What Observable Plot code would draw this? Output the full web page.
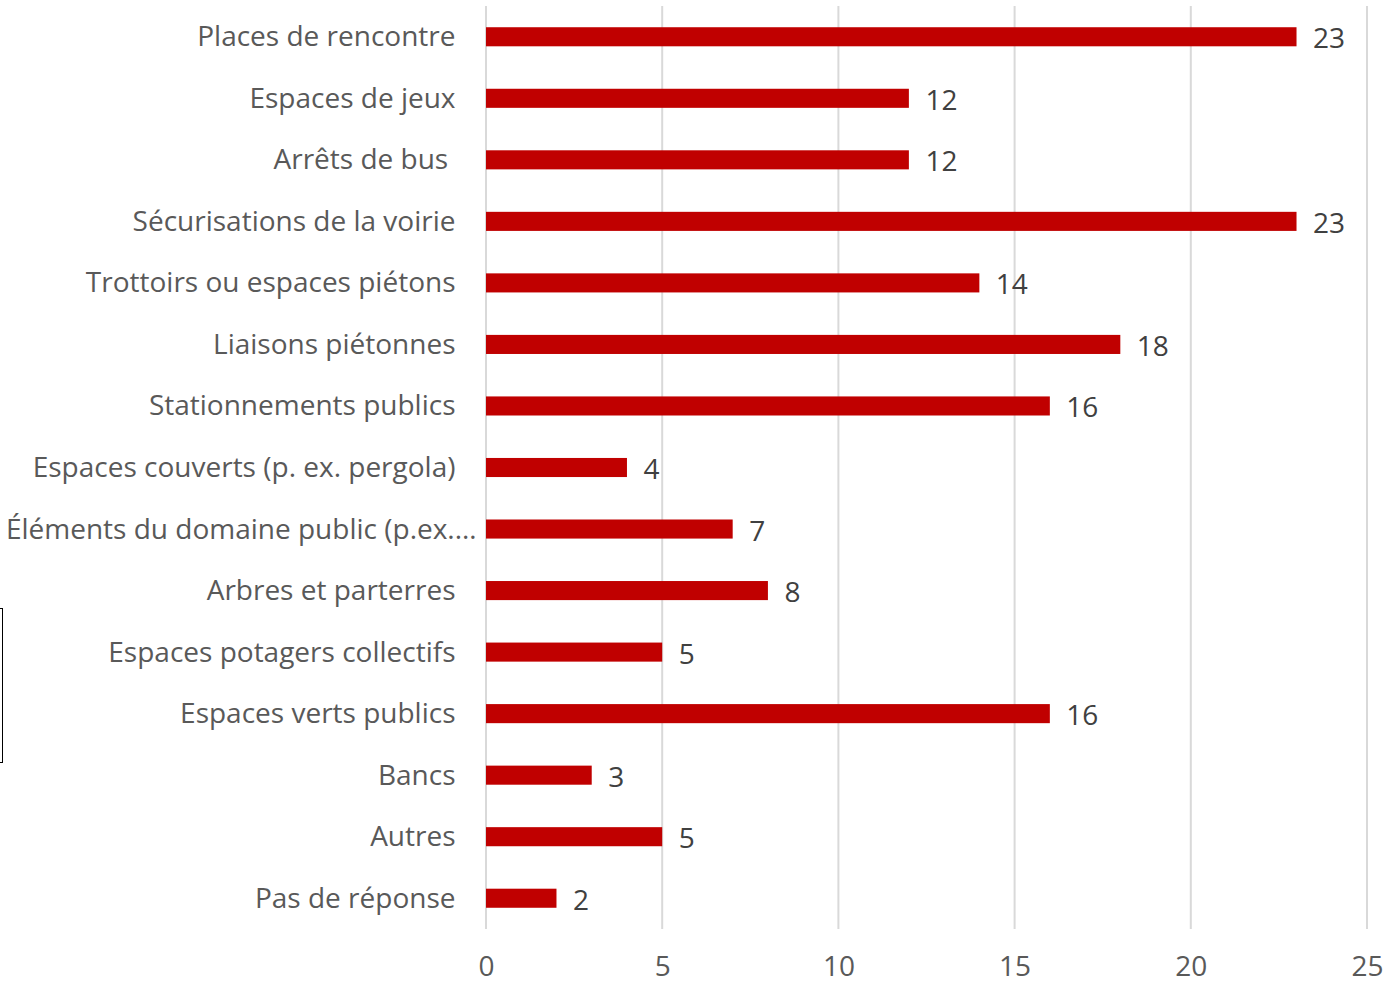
<!DOCTYPE html>
<html>
<head>
<meta charset="utf-8">
<script src="https://cdn.jsdelivr.net/npm/d3@7"></script>
<script src="https://cdn.jsdelivr.net/npm/@observablehq/plot@0.6"></script>
<style>
  html, body { margin: 0; padding: 0; background: #fff; }
  #wrap { position: relative; width: 1385px; height: 983px; }
  #bracket { position: absolute; left: -6px; top: 608px; width: 8px; height: 153px;
             border: 1.5px solid #000; border-left: none; }
</style>
</head>
<body>
<div id="wrap"><div id="bracket"></div></div>
<script>
const categories = [
  "Places de rencontre",
  "Espaces de jeux",
  "Arrêts de bus ",
  "Sécurisations de la voirie",
  "Trottoirs ou espaces piétons",
  "Liaisons piétonnes",
  "Stationnements publics",
  "Espaces couverts (p. ex. pergola)",
  "Éléments du domaine public (p.ex.…",
  "Arbres et parterres",
  "Espaces potagers collectifs",
  "Espaces verts publics",
  "Bancs",
  "Autres",
  "Pas de réponse"
];
const values = [23, 12, 12, 23, 14, 18, 16, 4, 7, 8, 5, 16, 3, 5, 2];
const xTicks = [0, 5, 10, 15, 20, 25];
const truncatedLabel = "Éléments du domaine public (p.ex.…";

const data = categories.map((c, i) => ({category: c, value: values[i]}));
const font = "'Open Sans', sans-serif";

const chart = Plot.plot({
  width: 1385,
  height: 983,
  marginLeft: 486,
  marginRight: 18,
  marginTop: 6,
  marginBottom: 54,
  style: {fontFamily: font, fontSize: "28px", color: "#595959", background: "transparent"},
  x: {domain: [0, 25], ticks: xTicks, label: null},
  y: {domain: categories, paddingInner: 0.69, paddingOuter: 0.345, round: false, label: null},
  marks: [
    Plot.ruleX(xTicks, {stroke: "#d9d9d9", strokeWidth: 2, strokeOpacity: 1, dx: -0.5}),
    Plot.barX(data, {x: "value", y: "category", fill: "#c00000"}),
    Plot.text(data, {x: "value", y: "category", text: d => String(d.value), textAnchor: "start",
      dx: 16, dy: 2, fill: "#404040", fontSize: 28}),
    Plot.axisX({ticks: xTicks, tickSize: 0, tickPadding: 27, fontSize: 28, fill: "#595959", label: null}),
    Plot.axisY(categories.filter(c => c !== truncatedLabel),
      {tickSize: 0, tickPadding: 31, fontSize: 28, fill: "#595959", label: null}),
    Plot.axisY([truncatedLabel],
      {tickSize: 0, tickPadding: 10, fontSize: 28, fill: "#595959", label: null})
  ]
});
document.getElementById("wrap").appendChild(chart);
</script>
</body>
</html>
